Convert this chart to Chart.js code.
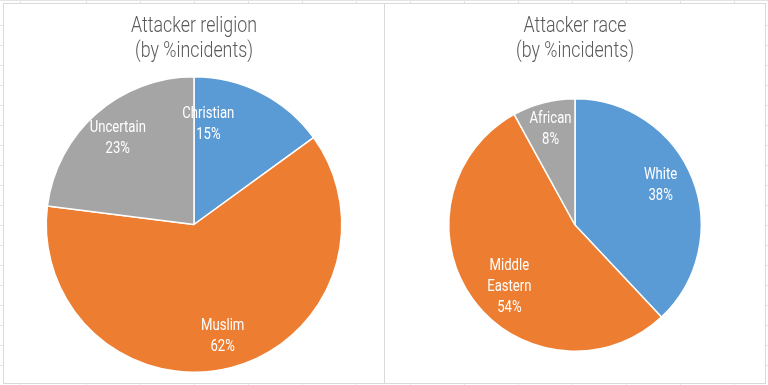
<!DOCTYPE html>
<html>
<head>
<meta charset="utf-8">
<script src="https://cdn.jsdelivr.net/npm/chart.js@4/dist/chart.umd.min.js"></script>
<style>
  body {
    margin: 0;
    width: 768px;
    height: 385px;
    background-color: #fff;
    background-image:
      repeating-linear-gradient(90deg, transparent 0 53px, #e4e4e4 53px 54px),
      repeating-linear-gradient(180deg, transparent 0 19px, #e4e4e4 19px 20px);
    background-position: 33px 0, 0 6px;
    overflow: hidden;
  }
  .panel {
    position: absolute;
    top: 3px;
    width: 380px;
    height: 379px;
    border: 1px solid #d9d9d9;
    background: #fff;
  }
  .panel canvas { display: block; }
</style>
</head>
<body>
<div class="panel" style="left:3px"><canvas id="religion" width="380" height="379"></canvas></div>
<div class="panel" style="left:384px"><canvas id="race" width="380" height="379"></canvas></div>

<script>
// data (% of incidents)
const religionLabels = ['Christian', 'Muslim', 'Uncertain'];
const religionValues = [15, 62, 23];

const raceLabels = ['White', 'Middle Eastern', 'African'];
const raceValues = [38, 54, 8];

const sliceColors = ['#5B9BD5', '#ED7D31', '#A5A5A5'];
const FONT = 'Roboto, "DejaVu Sans", sans-serif';

// no condensed face installed, so squeeze the text horizontally
function narrowText(ctx, text, x, y, sx) {
  ctx.save();
  ctx.translate(x, y);
  ctx.scale(sx, 1);
  ctx.fillText(text, 0, 0);
  ctx.restore();
}

// two-line title in the top padding
const narrowTitle = {
  id: 'narrowTitle',
  afterDraw(chart, args, opts) {
    const ctx = chart.ctx;
    ctx.save();
    ctx.fillStyle = '#595959';
    ctx.font = '300 22px ' + FONT;
    ctx.textAlign = 'center';
    ctx.textBaseline = 'alphabetic';
    const cx = chart.width / 2;
    opts.text.forEach((t, k) => narrowText(ctx, t, cx, opts.baseline + k * 25, 0.81));
    ctx.restore();
  }
};

// draws "name / pct%" inside each slice, Excel style
const sliceLabels = {
  id: 'sliceLabels',
  afterDatasetsDraw(chart, args, opts) {
    const ctx = chart.ctx;
    const meta = chart.getDatasetMeta(0);
    const values = chart.data.datasets[0].data;
    const total = values.reduce((a, b) => a + b, 0);
    ctx.save();
    ctx.fillStyle = '#fff';
    ctx.font = '16px ' + FONT;
    ctx.textAlign = 'center';
    ctx.textBaseline = 'middle';
    meta.data.forEach((arc, i) => {
      const p = arc.getProps(['x', 'y', 'startAngle', 'endAngle', 'outerRadius'], true);
      const mid = (p.startAngle + p.endAngle) / 2;
      const r = p.outerRadius * opts.radius;
      const nudge = (opts.nudge && opts.nudge[i]) || [0, 0];
      const cx = p.x + Math.cos(mid) * r + nudge[0];
      const cy = p.y + Math.sin(mid) * r + nudge[1];
      const lines = chart.data.labels[i].split(' ');
      lines.push(Math.round(values[i] / total * 100) + '%');
      const lh = 21;
      const top = cy - (lines.length - 1) * lh / 2;
      lines.forEach((t, k) => narrowText(ctx, t, cx, top + k * lh, 0.82));
    });
    ctx.restore();
  }
};

function makePie(id, title, labels, values, padding, nudge) {
  return new Chart(document.getElementById(id), {
    type: 'pie',
    data: {
      labels: labels,
      datasets: [{
        data: values,
        backgroundColor: sliceColors,
        borderColor: '#fff',
        borderWidth: 1.5
      }]
    },
    options: {
      responsive: false,
      animation: false,
      layout: { padding: padding },
      plugins: {
        legend: { display: false },
        tooltip: { enabled: false },
        title: { display: false },
        narrowTitle: { text: title, baseline: 28 },
        sliceLabels: { radius: 0.78, nudge: nudge }
      }
    },
    plugins: [sliceLabels, narrowTitle]
  });
}

makePie('religion', ['Attacker religion', '(by %incidents)'], religionLabels, religionValues,
  { top: 72, bottom: 10 }, [[-38, 3], [0, 0], [0, 0]]);
makePie('race', ['Attacker race', '(by %incidents)'], raceLabels, raceValues,
  { top: 94, bottom: 31 }, [[-6, -3], [14, 4], [0, 0]]);
</script>
</body>
</html>
